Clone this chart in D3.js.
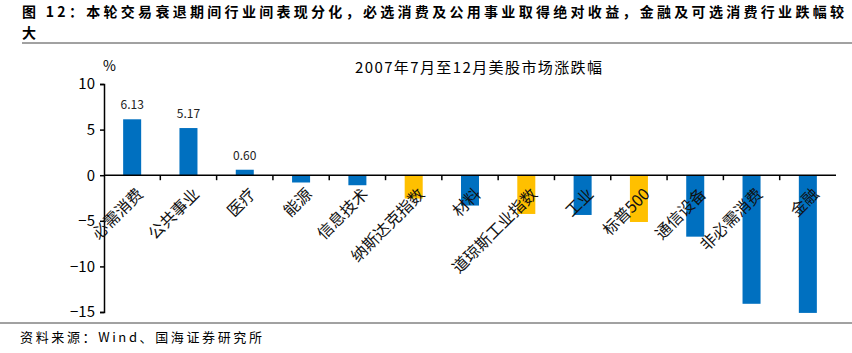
<!DOCTYPE html>
<html>
<head>
<meta charset="utf-8">
<script src="https://cdn.jsdelivr.net/npm/d3@7"></script>
<style>
  body { margin: 0; background: #fff; }
  svg text { font-family: "Noto Sans CJK SC", "Liberation Sans", sans-serif; }
</style>
</head>
<body>
<svg id="chart" width="852" height="353"></svg>
<script>
// data
const categories = ["必需消费", "公共事业", "医疗", "能源", "信息技术", "纳斯达克指数", "材料",
    "道琼斯工业指数", "工业", "标普500", "通信设备", "非必需消费", "金融"];
const values = [6.13, 5.17, 0.60, -0.8, -1.1, -2.56, -3.33, -4.25, -4.36, -5.13, -6.74, -14.1, -15.1];
const isIndex = [false, false, false, false, false, true, false, true, false, true, false, false, false];
const labelled = ["6.13", "5.17", "0.60"];   // only the positive bars carry a label
const yTicks = [10, 5, 0, -5, -10, -15];

const svg = d3.select("#chart");
const plotLeft = 104, plotRight = 836, plotTop = 84, plotBottom = 312;

const x = d3.scaleBand()
    .domain(categories)
    .range([plotLeft, plotRight])
    .paddingInner(0.68)
    .paddingOuter(0.34);

const y = d3.scaleLinear()
    .domain([-15, 10])
    .range([plotBottom, plotTop]);

// header
svg.append("text")
    .attr("x", 22).attr("y", 17)
    .attr("font-size", 14).attr("font-weight", "bold")
    .attr("textLength", 822).attr("lengthAdjust", "spacing")
    .text("图 12：本轮交易衰退期间行业间表现分化，必选消费及公用事业取得绝对收益，金融及可选消费行业跌幅较");
svg.append("text")
    .attr("x", 22).attr("y", 38)
    .attr("font-size", 14).attr("font-weight", "bold")
    .text("大");
svg.append("line")
    .attr("x1", 22).attr("x2", 852).attr("y1", 43).attr("y2", 43)
    .attr("stroke", "#444").attr("stroke-width", 1);

// chart title and unit
svg.append("text")
    .attr("x", 355).attr("y", 73)
    .attr("font-size", 15)
    .attr("textLength", 247).attr("lengthAdjust", "spacing")
    .text("2007年7月至12月美股市场涨跌幅");
svg.append("text")
    .attr("x", 103).attr("y", 71)
    .attr("font-size", 14)
    .attr("font-family", "Liberation Sans, sans-serif")
    .text("%");

// bars
svg.selectAll("rect.bar")
    .data(categories)
    .join("rect")
    .attr("class", "bar")
    .attr("x", d => x(d))
    .attr("width", x.bandwidth())
    .attr("y", (d, i) => y(Math.max(0, values[i])))
    .attr("height", (d, i) => Math.abs(y(values[i]) - y(0)))
    .attr("fill", (d, i) => isIndex[i] ? "#FFC000" : "#0070C0");

// value labels
svg.selectAll("text.val")
    .data(labelled)
    .join("text")
    .attr("class", "val")
    .attr("x", (d, i) => x(categories[i]) + x.bandwidth() / 2)
    .attr("y", (d, i) => y(values[i]) - 10)
    .attr("text-anchor", "middle")
    .attr("font-size", 12)
    .attr("fill", "#222")
    .text(d => d);

// y axis
const yAxis = svg.append("g")
    .attr("transform", `translate(${plotLeft},0)`)
    .call(d3.axisLeft(y).tickValues(yTicks).tickSize(4).tickPadding(5).tickFormat(d => d < 0 ? "\u2212" + Math.abs(d) : d));
yAxis.select(".domain").attr("stroke", "#000").attr("stroke-width", 1.5);
yAxis.selectAll(".tick line").attr("stroke", "#000").attr("stroke-width", 1.5);
yAxis.selectAll(".tick text")
    .attr("font-size", 15)
    .attr("font-family", "Liberation Sans, sans-serif")
    .attr("fill", "#000");

// zero line with ticks between categories
svg.append("line")
    .attr("x1", plotLeft).attr("x2", plotRight)
    .attr("y1", y(0)).attr("y2", y(0))
    .attr("stroke", "#000").attr("stroke-width", 1.5);
const step = x.step();
svg.selectAll("line.xtick")
    .data(categories.slice(1))
    .join("line")
    .attr("class", "xtick")
    .attr("x1", d => x(d) - x.paddingInner() * step / 2)
    .attr("x2", d => x(d) - x.paddingInner() * step / 2)
    .attr("y1", y(0)).attr("y2", y(0) + 5)
    .attr("stroke", "#000").attr("stroke-width", 1.5);

// category labels, rotated
svg.selectAll("text.cat")
    .data(categories)
    .join("text")
    .attr("class", "cat")
    .attr("transform", d => `translate(${x(d) + x.bandwidth() / 2 + 4},${y(0) + 12}) rotate(-45)`)
    .attr("text-anchor", "end")
    .attr("dy", "0.7em")
    .attr("font-size", 16)
    .attr("fill", "#111")
    .text(d => d);

// footer
svg.append("line")
    .attr("x1", 0).attr("x2", 852).attr("y1", 323).attr("y2", 323)
    .attr("stroke", "#444").attr("stroke-width", 1);
svg.append("text")
    .attr("x", 20).attr("y", 342)
    .attr("font-size", 13)
    .attr("textLength", 242).attr("lengthAdjust", "spacing")
    .text("资料来源：Wind、国海证券研究所");
</script>
</body>
</html>
